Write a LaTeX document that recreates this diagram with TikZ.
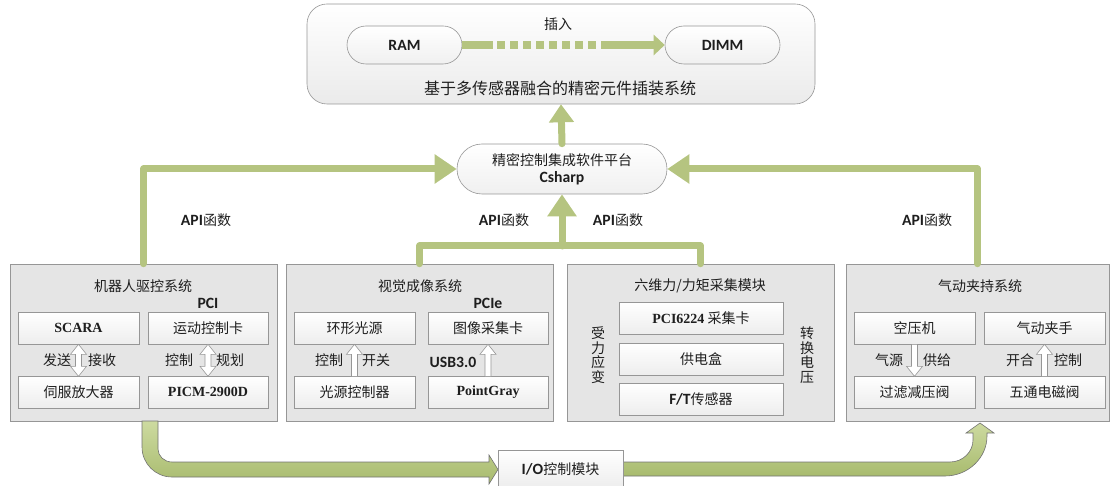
\documentclass[tikz,border=0pt]{standalone}
\usepackage{fontspec}
\setmainfont{Liberation Serif}
\newfontfamily\cjk{Noto Sans CJK SC}
\newfontfamily\lsansfam[Scale=1.12]{Carlito}
\newfontfamily\lseriffam{Liberation Serif}
\newcommand{\mysb}[1]{{\lsansfam\bfseries #1}}
\newcommand{\myrb}[1]{{\lseriffam\bfseries #1}}
\usetikzlibrary{arrows.meta,shadings}
\definecolor{lgreen}{RGB}{181,196,128}
\definecolor{bord}{RGB}{150,150,150}
\definecolor{outfill}{RGB}{229,229,229}
\definecolor{txt}{RGB}{30,30,30}
\definecolor{fatt}{RGB}{205,218,160}
\definecolor{fatb}{RGB}{168,187,110}
\begin{document}
\begin{tikzpicture}[x=1pt,y=-1pt,
 every node/.style={font=\cjk\fontsize{14}{17}\selectfont, text=txt, inner sep=0pt},
 topbox/.style={draw=bord, rounded corners=20pt, top color=white, bottom color=black!8, line width=0.6pt},
 pill/.style={draw=bord, rounded corners=19pt, top color=white, bottom color=black!6, line width=0.6pt,
   minimum width=115pt, minimum height=38pt, font=\lsansfam\bfseries\fontsize{14}{16}\selectfont},
 grp/.style={draw=bord, fill=outfill, line width=0.6pt, minimum height=157pt},
 ibox/.style={draw=bord, top color=white, bottom color=black!7, line width=0.6pt, minimum height=32pt},
 sbox/.style={ibox, minimum width=121pt},
 grn/.style={draw=lgreen, line width=7pt, line cap=round, line join=round},
 bigtip/.style={-{Triangle[width=28pt,length=22pt]}},
 hollow/.style={draw=bord, fill=white, line width=0.6pt},
 fat/.style={draw=black!55, top color=fatt, bottom color=fatb, line width=0.6pt},
 dblarr/.pic={\path[hollow] (0,0) -- (8,10) -- (3,10) -- (3,22) -- (8,22) -- (0,32) -- (-8,22) -- (-3,22) -- (-3,10) -- (-8,10) -- cycle;},
 uparr/.pic={\path[hollow] (0,0) -- (8,10) -- (3,10) -- (3,32) -- (-3,32) -- (-3,10) -- (-8,10) -- cycle;},
 dnarr/.pic={\path[hollow] (-3,0) -- (3,0) -- (3,22) -- (8,22) -- (0,32) -- (-8,22) -- (-3,22) -- cycle;}
]
\useasboundingbox (0,0) rectangle (1110,486);

% top system box
\node[topbox, minimum width=508pt, minimum height=100pt] (top) at (561,54) {};
\node[pill] (ram) at (404.5,45) {RAM};
\node[pill] (dimm) at (722.5,45) {DIMM};
\node (ins) at (558,24) {插入};
\node[font=\cjk\fontsize{16}{18}\selectfont] (ttl) at (560,88) {基于多传感器融合的精密元件插装系统};
\draw[draw=lgreen, line width=8pt, -{Triangle[width=20pt,length=11pt]},
  dash pattern=on 31pt off 4pt on 8pt off 5pt on 8pt off 5pt on 8pt off 5pt on 8pt off 5pt on 8pt off 5pt on 8pt off 5pt on 8pt off 5pt on 8pt off 5pt on 200pt off 1pt]
  (ram) -- (dimm);

% software platform
\node[draw=bord, rounded corners=25pt, top color=white, bottom color=black!6, line width=0.6pt,
  minimum width=210pt, minimum height=50pt, align=center] (cs) at (562,169)
  {精密控制集成软件平台\\\mysb{Csharp}};

% API labels
\node (api1) at (206,220) {\mysb{API}函数};
\node (api2) at (504,220) {\mysb{API}函数};
\node (api3) at (618,220) {\mysb{API}函数};
\node (api4) at (927,220) {\mysb{API}函数};

% group boxes
\node[grp, minimum width=267pt] (b1) at (143.5,342.5) {};
\node[grp, minimum width=267pt] (b2) at (419.5,342.5) {};
\node[grp, minimum width=267pt] (b3) at (700.5,342.5) {};
\node[grp, minimum width=263pt] (b4) at (977.5,342.5) {};
\node (t1) at (143,286) {机器人驱控系统};
\node (t2) at (420,286) {视觉成像系统};
\node (t3) at (700,286) {六维力/力矩采集模块};
\node (t4) at (980,286) {气动夹持系统};

% box 1
\node (pci) at (208,303) {\mysb{PCI}};
\node[sbox] (scara) at (78.5,328) {\myrb{SCARA}};
\node[sbox, minimum width=120pt] (mcard) at (208,328) {运动控制卡};
\node[sbox] (servo) at (78.5,392) {伺服放大器};
\node[sbox, minimum width=120pt] (picm) at (208,392) {\myrb{PICM-2900D}};
\pic at (scara.south) {dblarr};
\pic at (mcard.south) {dblarr};
\node (l11) at (57,360) {发送};
\node (l12) at (102,360) {接收};
\node (l13) at (179,360) {控制};
\node (l14) at (230,360) {规划};

% box 2
\node (pcie) at (488,303) {\mysb{PCIe}};
\node[sbox] (ring) at (354.5,328) {环形光源};
\node[sbox, minimum width=120pt] (grab) at (488,328) {图像采集卡};
\node[sbox] (lctl) at (354.5,392) {光源控制器};
\node[sbox, minimum width=120pt] (pg) at (488,392) {\myrb{PointGray}};
\pic at (ring.south) {uparr};
\pic at (grab.south) {uparr};
\node (l21) at (329,360) {控制};
\node (l22) at (376,360) {开关};
\node (usb) at (453,362) {\mysb{USB3.0}};

% box 3
\node[ibox, minimum width=164pt] (daq) at (701,318) {\myrb{PCI6224} 采集卡};
\node[ibox, minimum width=164pt] (pwr) at (701,359) {供电盒};
\node[ibox, minimum width=164pt] (ft) at (701,399) {\mysb{F/T}传感器};
\node[align=center, font=\cjk\fontsize{14}{14.5}\selectfont] (v1) at (598,355) {受\\力\\应\\变};
\node[align=center, font=\cjk\fontsize{14}{14.5}\selectfont] (v2) at (807,355) {转\\换\\电\\压};

% box 4
\node[sbox] (comp) at (914.5,328) {空压机};
\node[sbox] (grip) at (1044.5,328) {气动夹手};
\node[sbox] (filt) at (914.5,392) {过滤减压阀};
\node[sbox] (valve) at (1044.5,392) {五通电磁阀};
\pic at (comp.south) {dnarr};
\pic at (grip.south) {uparr};
\node (l41) at (889,360) {气源};
\node (l42) at (937,360) {供给};
\node (l43) at (1020,360) {开合};
\node (l44) at (1068,360) {控制};

% fat curved arrows through the I/O module
\path[fat] (142,421) -- (142,447) .. controls (142,463.6) and (155.4,477) .. (172,477) -- (489,477)
  -- (489,484) -- (498,469.5) -- (489,455) -- (489,462) -- (172,462)
  .. controls (164.3,462) and (158,456.2) .. (158,449) -- (158,421) -- cycle;
\path[fat] (623,476) -- (945,476) .. controls (968,476) and (987,458) .. (987,436) -- (987,433)
  -- (994,433) -- (980,423) -- (966,433) -- (973,433) -- (973,440)
  .. controls (973,452) and (962.7,462) .. (950,462) -- (623,462) -- cycle;
\node[ibox, minimum width=125pt, minimum height=38pt] (io) at (560.5,469) {\mysb{I/O}控制模块};

% green connectors
\coordinate (mj) at (562,246);
\draw[grn, bigtip] (b1.north) |- (cs.west);
\draw[grn, bigtip] (b4.north) |- (cs.east);
\draw[grn] (b2.north) |- (mj) -| (b3.north);
\draw[grn, bigtip] (mj) -- (cs.south);
\draw[grn, -{Triangle[width=24pt,length=18pt]}] (cs.north) -- (top.south);
\end{tikzpicture}
\end{document}
